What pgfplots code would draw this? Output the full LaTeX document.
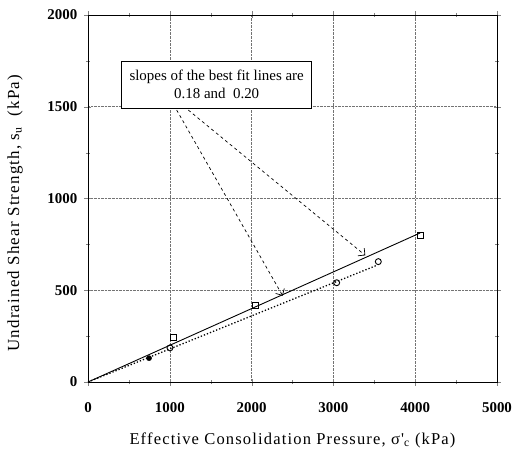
\documentclass[border=0pt]{standalone}
\usepackage{pgfplots}
\pgfplotsset{compat=1.18}
\usetikzlibrary{arrows.meta}
\usepackage{fontspec}
\setmainfont{Liberation Serif}
\newfontfamily\labelfont[LetterSpace=7]{Liberation Serif}
\begin{document}
\fontsize{15}{18}\selectfont
\begin{tikzpicture}
\path[use as bounding box] (-88bp,-78bp) rectangle (426bp,382bp);
\begin{axis}[
  at={(0,0)}, anchor=south west,
  scale only axis, width=409bp, height=367bp,
  xmin=0, xmax=5000, ymin=0, ymax=2000,
  xtick={0,1000,2000,3000,4000,5000},
  ytick={0,500,1000,1500,2000},
  minor xtick={500,1500,2500,3500,4500},
  minor ytick={250,750,1250,1750},
  tick align=center,
  minor tick length=4bp, major tick length=7bp,
  grid=major,
  major grid style={black!55, densely dotted, line width=0.5pt},
  axis line style={line width=0.8pt},
  /pgf/number format/assume math mode=true,
  /pgf/number format/1000 sep={},
  ticklabel style={font=\fontsize{15}{18}\selectfont\bfseries},
  xticklabel style={yshift=-12bp},
  yticklabel style={xshift=-2bp},
  xlabel={Effective Consolidation Pressure, σ'\textsubscript{c} (kPa)},
  ylabel={Undrained Shear Strength, s\textsubscript{u}\ \ (kPa)},
  xlabel style={font=\fontsize{16.6}{19}\labelfont, at={(axis description cs:0.5,-0.158)}, anchor=center},
  ylabel style={font=\fontsize{17}{20}\labelfont, at={(axis description cs:-0.1785,0.46)}, anchor=center},
  clip=false,
]
% best fit lines
\addplot[black, line width=0.9pt] coordinates {(0,0) (4060,812)};
\addplot[black, line width=1.3pt, dotted] coordinates {(0,0) (3520,634)};
% data
\addplot[only marks, mark=square, mark size=3pt, black, line width=0.8pt]
  coordinates {(1043,241) (2041,420) (4059,800)};
\addplot[only marks, mark=o, mark size=3pt, black, line width=0.9pt]
  coordinates {(1002,186) (3040,541) (3549,656)};
\addplot[only marks, mark=*, mark size=2.6pt, black]
  coordinates {(746,130)};
% arrows
\addplot[black, dashed, line width=0.7pt, -{Straight Barb[length=5bp]}] coordinates {(1084,1482) (2380,470)};
\addplot[black, dashed, line width=0.7pt, -{Straight Barb[length=5bp]}] coordinates {(1226,1482) (3390,690)};
% annotation box
\node[draw, fill=white, line width=0.6pt, align=center, inner sep=3bp,
  minimum width=190bp, minimum height=47bp, font=\fontsize{15}{18}\selectfont]
  at (axis cs:1573,1620) {slopes of the best fit lines are\\0.18 and\ \ 0.20};
\end{axis}
\end{tikzpicture}
\end{document}
